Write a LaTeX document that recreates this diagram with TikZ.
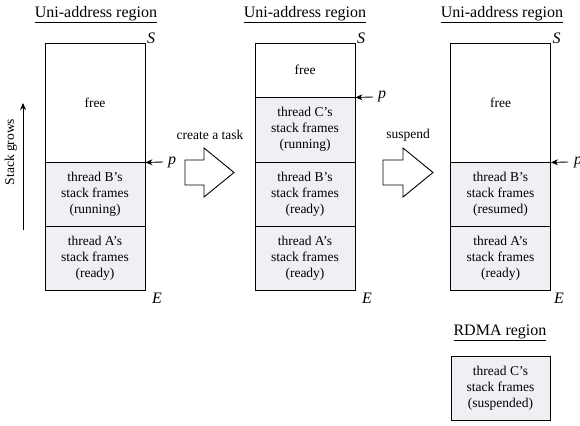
\documentclass[tikz,border=0pt]{standalone}
\usepackage{fontspec}
\setmainfont{Liberation Serif}
\usetikzlibrary{arrows.meta}
\definecolor{framefill}{RGB}{240,240,244}
\begin{document}
\begin{tikzpicture}[x=1pt,y=-1pt,
  seg/.style={draw, line width=0.9pt, minimum width=100pt, inner sep=0pt, align=center,
    font=\fontsize{13.5}{16}\selectfont},
  used/.style={seg, fill=framefill},
  regtitle/.style={anchor=base, inner sep=0pt, font=\fontsize{16}{19}\selectfont},
  lbl/.style={inner sep=0pt, font=\fontsize{16}{19}\selectfont\itshape},
  smalltext/.style={inner sep=0pt, font=\fontsize{13.5}{16}\selectfont},
  ptr/.style={-{Stealth[length=7pt,width=6pt]}, line width=0.9pt},
  splitline/.style={line width=1.6pt},
  blockarrow/.style={draw, line width=0.9pt, fill=white, line join=miter}
]
\useasboundingbox (0,0) rectangle (580,425);

% ---------- column 1 ----------
\node[regtitle] (t1) at (96,17.5) {\underline{Uni-address region}};
\node[seg,  minimum height=119pt] (f1) at (95,102.5) {free};
\node[used, minimum height=64pt]  (b1) at (95,194) {thread B’s\\stack frames\\(running)};
\node[used, minimum height=64pt]  (a1) at (95,258) {thread A’s\\stack frames\\(ready)};
\draw[splitline] (f1.south west) -- (f1.south east);
\node[lbl, anchor=base west] (s1) at (147,44) {S};
\node[lbl, anchor=north west] (e1) at (152,293) {E};
\coordinate (q1) at (163,162);
\draw[ptr] (q1) -- (f1.south east);
\node[lbl, anchor=base west] (p1) at (168,164) {p};

% stack grows
\coordinate (g0) at (23,230);
\coordinate (g1) at (23,103);
\draw[ptr] (g0) -- (g1);
\node[smalltext, rotate=90] (sg) at (11,152) {Stack grows};

% ---------- arrow 1 ----------
\node[smalltext] (ct) at (210,135) {create a task};
\draw[blockarrow] (185,160) -- (204,160) -- (204,148) -- (234,172.5) -- (204,197) -- (204,185) -- (185,185) -- cycle;

% ---------- column 2 ----------
\node[regtitle] (t2) at (305,17.5) {\underline{Uni-address region}};
\node[seg,  minimum height=54pt] (f2) at (305,70) {free};
\node[used, minimum height=65pt] (c2) at (305,129.5) {thread C’s\\stack frames\\(running)};
\node[used, minimum height=64pt] (b2) at (305,194) {thread B’s\\stack frames\\(ready)};
\node[used, minimum height=64pt] (a2) at (305,258) {thread A’s\\stack frames\\(ready)};
\draw[splitline] (f2.south west) -- (f2.south east);
\node[lbl, anchor=base west] (s2) at (357,44) {S};
\node[lbl, anchor=north west] (e2) at (362,293) {E};
\coordinate (q2) at (373,97);
\draw[ptr] (q2) -- (f2.south east);
\node[lbl, anchor=base west] (p2) at (378,99) {p};

% ---------- arrow 2 ----------
\node[smalltext] (su) at (408,135) {suspend};
\draw[blockarrow] (383,160) -- (403,160) -- (403,148) -- (433,172.5) -- (403,197) -- (403,185) -- (383,185) -- cycle;

% ---------- column 3 ----------
\node[regtitle] (t3) at (502,17.5) {\underline{Uni-address region}};
\node[seg,  minimum height=119pt] (f3) at (500.5,102.5) {free};
\node[used, minimum height=64pt]  (b3) at (500.5,194) {thread B’s\\stack frames\\(resumed)};
\node[used, minimum height=64pt]  (a3) at (500.5,258) {thread A’s\\stack frames\\(ready)};
\draw[splitline] (f3.south west) -- (f3.south east);
\node[lbl, anchor=base west] (s3) at (552.5,44) {S};
\node[lbl, anchor=north west] (e3) at (554,293) {E};
\coordinate (q3) at (568,162);
\draw[ptr] (q3) -- (f3.south east);
\node[lbl, anchor=base west] (p3) at (574,164) {p};

% ---------- RDMA region ----------
\node[regtitle] (t4) at (500,335) {\underline{RDMA region}};
\node[used, minimum width=99pt, minimum height=64pt] (c4) at (500.5,388) {thread C’s\\stack frames\\(suspended)};
\end{tikzpicture}
\end{document}
